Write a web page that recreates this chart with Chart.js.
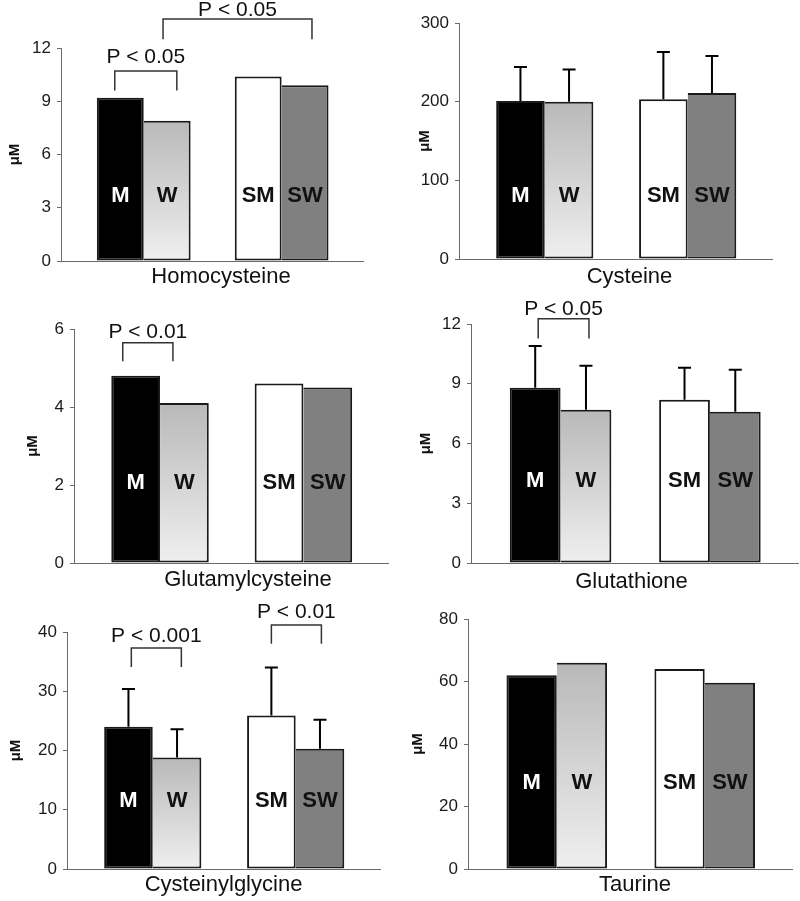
<!DOCTYPE html>
<html>
<head>
<meta charset="utf-8">
<title>Plasma thiols and taurine</title>
<script src="https://cdn.jsdelivr.net/npm/chart.js@4.4.0/dist/chart.umd.min.js"></script>
<style>
    html, body { margin: 0; padding: 0; background: #fff; }
    body { width: 800px; height: 901px; position: relative; overflow: hidden; }
    canvas { position: absolute; }
</style>
</head>
<body>
<canvas id="hcy" width="400" height="300" style="left:0;top:0"></canvas>
<canvas id="cys" width="400" height="300" style="left:400px;top:0"></canvas>
<canvas id="glucys" width="400" height="305" style="left:0;top:295px"></canvas>
<canvas id="gsh" width="400" height="305" style="left:400px;top:295px"></canvas>
<canvas id="cysgly" width="400" height="306" style="left:0;top:595px"></canvas>
<canvas id="tau" width="400" height="306" style="left:400px;top:595px"></canvas>
<script>
    // groups, in drawing order: M, W | SM, SW
    var groupLabels = ['M', 'W', 'SM', 'SW'];

    // means (uM)
    var homocysteine = [9.2, 7.9, 10.4, 9.9];
    var cysteine = [201, 200, 203, 211];
    var glutamylcysteine = [4.8, 4.1, 4.6, 4.5];
    var glutathione = [8.8, 7.7, 8.2, 7.6];
    var cysteinylglycine = [24.0, 18.8, 25.9, 20.3];
    var taurine = [62, 66, 64, 59.6];

    // upper error bars (SD)
    var cysteineSD = [43, 41, 60, 47];
    var glutathioneSD = [2.1, 2.2, 1.6, 2.1];
    var cysteinylglycineSD = [6.4, 4.8, 8.1, 4.9];

    // y axis
    var yMax = [12, 300, 6, 12, 40, 80];
    var yStep = [3, 100, 2, 3, 10, 20];

    Chart.defaults.font.family = '"Liberation Sans", Arial, sans-serif';

    var AXIS = '#6a6a6a';
    var EDGE = '#1a1a1a';
    var FONT = '"Liberation Sans", Arial, sans-serif';

    var panels = [
        { id: 'hcy', title: 'Homocysteine', values: homocysteine, sd: null, yMax: yMax[0], yStep: yStep[0],
          pad: { left: 6, top: 48, right: 37 }, yw: 55, xh: 39, titleDx: 9, titleDy: 16, labelAt: 3.66,
          brackets: [
              { x1: -0.21, x2: 0.24, top: 10.7, leg: 9.6, textAt: 11.5, text: 'P < 0.05' },
              { x1: 0.14, x2: 1.22, top: 13.63, leg: 12.5, textAt: 14.14, text: 'P < 0.05' }
          ] },
        { id: 'cys', title: 'Cysteine', values: cysteine, sd: cysteineSD, yMax: yMax[1], yStep: yStep[1],
          pad: { left: 16, top: 23, right: 28 }, yw: 43, xh: 41, titleDx: 14, titleDy: 18, labelAt: 80,
          brackets: [] },
        { id: 'glucys', title: 'Glutamylcysteine', values: glutamylcysteine, sd: null, yMax: yMax[2], yStep: yStep[2],
          pad: { left: 24, top: 34, right: 12 }, yw: 50, xh: 37, titleDx: 17, titleDy: 17, labelAt: 2.06,
          brackets: [
              { x1: -0.26, x2: 0.09, top: 5.65, leg: 5.17, textAt: 5.91, text: 'P < 0.01' }
          ] },
        { id: 'gsh', title: 'Glutathione', values: glutathione, sd: glutathioneSD, yMax: yMax[3], yStep: yStep[3],
          pad: { left: 17, top: 29, right: 2 }, yw: 54, xh: 37, titleDx: -3, titleDy: 19, labelAt: 4.1,
          brackets: [
              { x1: -0.15, x2: 0.19, top: 12.26, leg: 11.27, textAt: 12.73, text: 'P < 0.05' }
          ] },
        { id: 'cysgly', title: 'Cysteinylglycine', values: cysteinylglycine, sd: cysteinylglycineSD, yMax: yMax[4], yStep: yStep[4],
          pad: { left: 7, top: 37, right: 20 }, yw: 60, xh: 32, titleDx: 0, titleDy: 16, labelAt: 11.5,
          brackets: [
              { x1: -0.15, x2: 0.2, top: 37.3, leg: 34.1, textAt: 39.3, text: 'P < 0.001' },
              { x1: 0.83, x2: 1.18, top: 41.2, leg: 38.0, textAt: 43.3, text: 'P < 0.01' }
          ] },
        { id: 'tau', title: 'Taurine', values: taurine, sd: null, yMax: yMax[5], yStep: yStep[5],
          pad: { left: 9, top: 24, right: 8 }, yw: 59, xh: 32, titleDx: 5, titleDy: 16, labelAt: 27.6,
          brackets: [] }
    ];

    // dataset 0 holds M and SM, dataset 1 holds W and SW
    function pairs(values, first) {
        return [{ x: 0, y: values[first] }, { x: 1, y: values[first + 2] }];
    }

    function womenFill(ctx) {
        if (ctx.type !== 'data') return '#d0d0d0';
        if (ctx.dataIndex === 1) return '#808080';
        var chart = ctx.chart;
        var area = chart.chartArea;
        if (!area) return '#d0d0d0';
        var top = chart.scales.y.getPixelForValue(ctx.parsed.y);
        var g = chart.ctx.createLinearGradient(0, top, 0, area.bottom);
        g.addColorStop(0, '#b9b9b9');
        g.addColorStop(1, '#efefef');
        return g;
    }

    function panelPlugin(p) {
        return {
            id: 'panelExtras',
            afterDatasetsDraw: function (chart) {
                var c = chart.ctx;
                var y = chart.scales.y;
                c.save();
                for (var d = 0; d < 2; d++) {
                    var meta = chart.getDatasetMeta(d);
                    meta.data.forEach(function (el, i) {
                        var k = d + 2 * i;
                        // error bar (upper only)
                        if (p.sd) {
                            var yTop = y.getPixelForValue(p.values[k] + p.sd[k]);
                            c.strokeStyle = '#000';
                            c.lineWidth = 2;
                            c.beginPath();
                            c.moveTo(el.x, el.y);
                            c.lineTo(el.x, yTop);
                            c.moveTo(el.x - 6.5, yTop);
                            c.lineTo(el.x + 6.5, yTop);
                            c.stroke();
                        }
                        // group label inside the bar
                        c.font = 'bold 22px ' + FONT;
                        c.textAlign = 'center';
                        c.textBaseline = 'middle';
                        c.fillStyle = k === 0 ? '#fff' : '#111';
                        c.fillText(groupLabels[k], el.x, y.getPixelForValue(p.labelAt));
                    });
                }
                c.restore();
            },
            afterDraw: function (chart) {
                var c = chart.ctx;
                var x = chart.scales.x;
                var y = chart.scales.y;
                var area = chart.chartArea;
                c.save();
                p.brackets.forEach(function (b) {
                    var x1 = x.getPixelForValue(b.x1);
                    var x2 = x.getPixelForValue(b.x2);
                    var yt = y.getPixelForValue(b.top);
                    var yl = y.getPixelForValue(b.leg);
                    c.strokeStyle = '#333';
                    c.lineWidth = 1.5;
                    c.beginPath();
                    c.moveTo(x1, yl);
                    c.lineTo(x1, yt);
                    c.lineTo(x2, yt);
                    c.lineTo(x2, yl);
                    c.stroke();
                    c.font = '21px ' + FONT;
                    c.fillStyle = '#111';
                    c.textAlign = 'center';
                    c.textBaseline = 'middle';
                    c.fillText(b.text, (x1 + x2) / 2, y.getPixelForValue(b.textAt));
                });
                // panel name under the axis
                c.font = '22px ' + FONT;
                c.fillStyle = '#111';
                c.textAlign = 'center';
                c.textBaseline = 'middle';
                c.fillText(p.title, (area.left + area.right) / 2 + p.titleDx, area.bottom + p.titleDy);
                c.restore();
            }
        };
    }

    panels.forEach(function (p) {
        new Chart(document.getElementById(p.id), {
            type: 'bar',
            data: {
                datasets: [{
                    label: 'M / SM',
                    data: pairs(p.values, 0),
                    backgroundColor: ['#000000', '#ffffff'],
                    borderColor: EDGE,
                    borderWidth: 2,
                    borderSkipped: false,
                    categoryPercentage: 0.68,
                    barPercentage: 1
                }, {
                    label: 'W / SW',
                    data: pairs(p.values, 1),
                    backgroundColor: womenFill,
                    borderColor: EDGE,
                    borderWidth: { top: 2, right: 2, bottom: 2, left: 0 },
                    borderSkipped: false,
                    categoryPercentage: 0.68,
                    barPercentage: 1
                }]
            },
            options: {
                responsive: false,
                animation: false,
                layout: { padding: { left: p.pad.left, top: p.pad.top, right: p.pad.right, bottom: 0 } },
                plugins: {
                    legend: { display: false },
                    tooltip: { enabled: false }
                },
                scales: {
                    x: {
                        type: 'linear',
                        min: -0.6,
                        max: 1.59,
                        bounds: 'data',
                        offset: false,
                        afterBuildTicks: function (s) { s.ticks = [{ value: 0 }, { value: 1 }]; },
                        afterFit: function (s) { s.height = p.xh; },
                        ticks: { display: false },
                        grid: { display: true, offset: false, drawOnChartArea: false, drawTicks: false },
                        border: { color: AXIS, width: 1 }
                    },
                    y: {
                        min: 0,
                        max: p.yMax,
                        afterFit: function (s) { s.width = p.yw; },
                        ticks: { stepSize: p.yStep, font: { size: 17 }, color: '#1a1a1a', padding: 6 },
                        grid: { drawOnChartArea: false, tickLength: 4, color: AXIS },
                        border: { color: AXIS, width: 1 },
                        title: { display: true, text: 'μM', font: { size: 15, weight: 'bold' }, color: '#111', padding: 0 }
                    }
                }
            },
            plugins: [panelPlugin(p)]
        });
    });
</script>
</body>
</html>
